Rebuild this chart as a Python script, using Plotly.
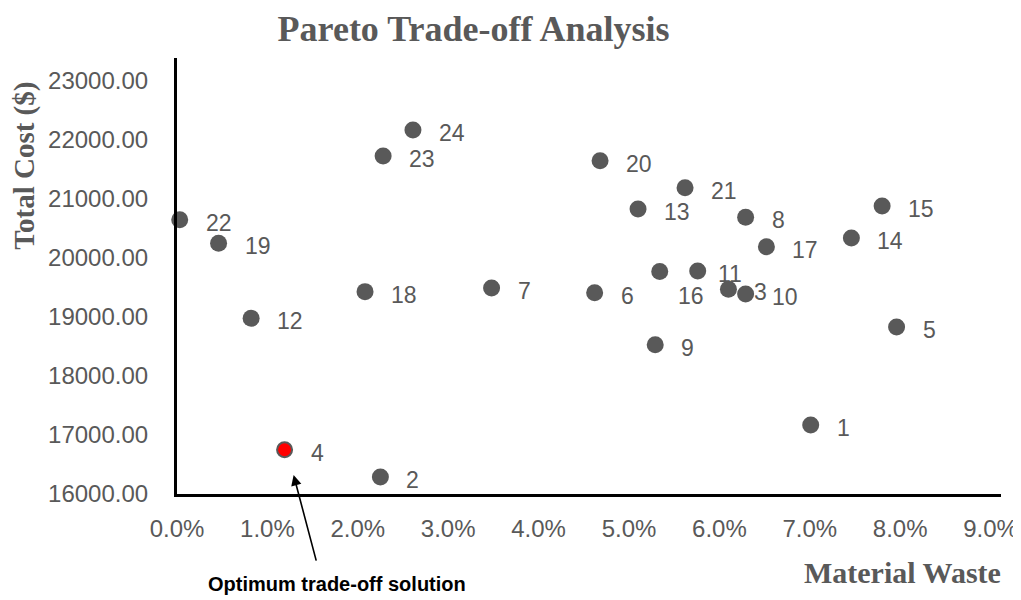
import plotly.graph_objects as go

# Data
solution_ids = ["1", "2", "3", "4", "5", "6", "7", "8", "9", "10", "11", "12",
                "13", "14", "15", "16", "17", "18", "19", "20", "21", "22", "23", "24"]
material_waste = [0.0701, 0.0225, 0.0610, 0.0119, 0.0796, 0.0462, 0.0348, 0.0629,
                  0.0529, 0.0629, 0.0576, 0.0082, 0.0510, 0.0746, 0.0780, 0.0534,
                  0.0652, 0.0208, 0.0046, 0.0468, 0.0562, 0.0003, 0.0228, 0.0261]
total_cost = [17170, 16290, 19470, 16750, 18830, 19410, 19490, 20690,
              18530, 19390, 19780, 18980, 20830, 20340, 20880, 19770,
              20190, 19430, 20250, 21650, 21190, 20650, 21730, 22170]
optimum_id = "4"

x_ticks = [0.0, 0.01, 0.02, 0.03, 0.04, 0.05, 0.06, 0.07, 0.08, 0.09]
y_ticks = [16000, 17000, 18000, 19000, 20000, 21000, 22000, 23000]

GRAY = "#595959"
SANS = "Liberation Sans, Arial, sans-serif"
SERIF = "Liberation Serif, Times New Roman, serif"

# label offsets in pixels (dx, dy) for special cases
label_shift = {"16": (-8, -21), "11": (-6, 0)}

opt_idx = solution_ids.index(optimum_id)
colors = ["red" if s == optimum_id else GRAY for s in solution_ids]
line_w = [2 if s == optimum_id else 0 for s in solution_ids]
sizes = [15 if s == optimum_id else 17 for s in solution_ids]

fig = go.Figure()
fig.add_trace(go.Scatter(
    x=material_waste, y=total_cost, mode="markers",
    marker=dict(color=colors, size=sizes, opacity=1,
                line=dict(color=GRAY, width=line_w)),
    cliponaxis=False, showlegend=False, hoverinfo="x+y+text", text=solution_ids,
))

annotations = []
for sid, xv, yv in zip(solution_ids, material_waste, total_cost):
    dx, dy = label_shift.get(sid, (0, 0))
    annotations.append(dict(
        x=xv, y=yv, xref="x", yref="y", text=sid, showarrow=False,
        xanchor="left", yanchor="middle", xshift=24 + dx, yshift=-3 + dy,
        font=dict(family=SANS, size=23, color=GRAY),
    ))

# axis titles
annotations.append(dict(
    text="<b>Total Cost ($)</b>", xref="paper", yref="paper",
    x=-0.185, y=0.752, showarrow=False, textangle=-90,
    xanchor="center", yanchor="middle",
    font=dict(family=SERIF, size=29, color=GRAY),
))
annotations.append(dict(
    text="<b>Material Waste</b>", xref="paper", yref="paper",
    x=0.88, y=-0.181, showarrow=False, xanchor="center", yanchor="middle",
    font=dict(family=SERIF, size=30, color=GRAY),
))

# optimum arrow + caption
annotations.append(dict(
    x=material_waste[opt_idx] + 0.0010, y=total_cost[opt_idx] - 430,
    xref="x", yref="y", text="", showarrow=True,
    ax=23, ay=87, axref="pixel", ayref="pixel",
    arrowhead=2, arrowsize=1.3, arrowwidth=1.6, arrowcolor="black",
))
annotations.append(dict(
    text="<b>Optimum trade-off solution</b>", xref="paper", yref="paper",
    x=0.194, y=-0.206, showarrow=False, xanchor="center", yanchor="middle",
    font=dict(family=SANS, size=20, color="black"),
))

# the page body adds an 8px offset, so margins are compensated by 8px
fig.update_layout(
    width=1021, height=600,
    paper_bgcolor="white", plot_bgcolor="white",
    margin=dict(l=169, r=28, t=50, b=114, autoexpand=False),
    title=dict(
        text="<b>Pareto Trade-off Analysis</b>",
        x=0.456, xref="container", xanchor="center",
        y=0.966, yref="container", yanchor="middle",
        font=dict(family=SERIF, size=36, color=GRAY),
    ),
    annotations=annotations,
    xaxis=dict(
        range=[0, 0.09115], tickvals=x_ticks, tickformat=".1%",
        showgrid=False, zeroline=False,
        showline=True, linecolor="black", linewidth=3,
        ticks="outside", ticklen=11, tickcolor="rgba(0,0,0,0)",
        tickfont=dict(family=SANS, size=24, color=GRAY),
    ),
    yaxis=dict(
        range=[16000, 23390], tickvals=y_ticks, tickformat=".2f",
        showgrid=False, zeroline=False,
        showline=True, linecolor="black", linewidth=3,
        ticks="outside", ticklen=21, tickcolor="rgba(0,0,0,0)",
        tickfont=dict(family=SANS, size=24, color=GRAY),
    ),
)

fig.write_html("out.html")
